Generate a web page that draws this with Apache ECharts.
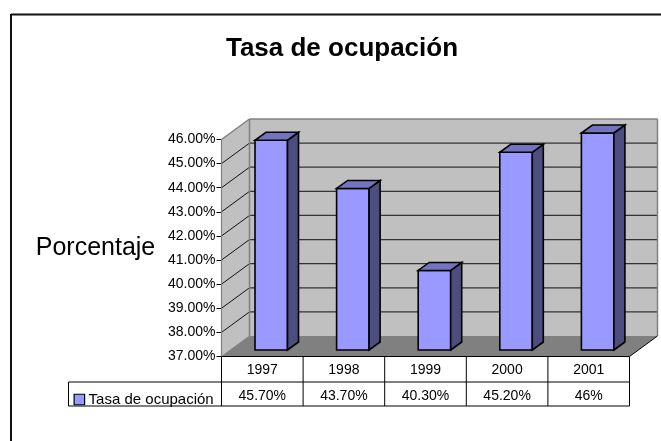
<!DOCTYPE html>
<html><head><meta charset="utf-8">
<style>html,body{margin:0;padding:0;background:#fff}#c{width:661px;height:441px}</style>
<script src="https://cdn.jsdelivr.net/npm/echarts@6/dist/echarts.min.js"></script>
</head><body><div id="c"></div>
<script>
const titleText = 'Tasa de ocupación';
const yAxisTitle = 'Porcentaje';
const seriesName = 'Tasa de ocupación';
const categories = ['1997','1998','1999','2000','2001'];
const values = [45.7,43.7,40.3,45.2,46];
const tableLabels = ['45.70%','43.70%','40.30%','45.20%','46%'];
const yMin = 37, yMax = 46;

const DX = 28, DY = -20.5;      // wall depth
const BAR_W = 32.5, BX = -7.3, BY = -6.5, BDX = 11, BDY = -8; // bar size & placement in depth
const FONT = '"Liberation Sans", Arial, sans-serif';
const ROW1 = 25.5, ROW2 = 49.5;

const chart = echarts.init(document.getElementById('c'), null, {renderer:'canvas'});

function poly(pts, fill, stroke, w){
  return {type:'polygon', shape:{points:pts}, style:{fill, stroke:stroke||null, lineWidth:w||0, lineJoin:'miter'}, silent:true};
}
function line(a,b,stroke,w){
  return {type:'line', shape:{x1:a[0],y1:a[1],x2:b[0],y2:b[1]}, style:{stroke, lineWidth:w}, silent:true};
}

function renderFrame(params, api){
  const x0 = api.coord([0,yMin])[0] - api.size([1,0])[0]/2;
  const x1 = x0 + api.size([1,0])[0]*categories.length;
  const yb = api.coord([0,yMin])[1], yt = api.coord([0,yMax])[1];
  const kids = [
    poly([[x0,yb],[x0+DX,yb+DY],[x0+DX,yt+DY],[x0,yt]], '#c0c0c0'),
    poly([[x0+DX,yb+DY],[x1+DX,yb+DY],[x1+DX,yt+DY],[x0+DX,yt+DY]], '#c0c0c0'),
    poly([[x0,yb],[x1,yb],[x1+DX,yb+DY],[x0+DX,yb+DY]], '#808080')
  ];
  for(let v=yMin+1;v<yMax;v++){
    const y = api.coord([0,v])[1];
    kids.push(line([x0,y],[x0+DX,y+DY],'#111',1));
    kids.push(line([x0+DX,y+DY],[x1+DX,y+DY],'#333',1.2));
  }
  kids.push(line([x0,yt],[x0+DX,yt+DY],'#808080',1.5));
  kids.push(line([x0+DX,yt+DY],[x1+DX,yt+DY],'#808080',1.5));
  kids.push(line([x1+DX,yt+DY],[x1+DX,yb+DY],'#808080',1.5));
  kids.push(line([x1+DX,yb+DY],[x1,yb],'#000',1));
  kids.push(line([x0,yb],[x0+DX,yb+DY],'#808080',1));
  kids.push(line([x0+DX,yb+DY],[x0+DX,yt+DY],'#808080',1.5));
  kids.push(line([x0,yb],[x0,yt],'#808080',1.2));
  return {type:'group', children:kids};
}

function renderBar(params, api){
  const i = api.value(0), v = api.value(1);
  const c = api.coord([i,yMin]), t = api.coord([i,v]);
  const l = c[0]+BX, r = l+BAR_W;
  const b = c[1]+BY, top = t[1]+BY;
  const s = '#000', w = 1.6;
  return {type:'group', children:[
    poly([[l,b],[r,b],[r,top],[l,top]], '#9999ff', s, w),
    poly([[r,b],[r+BDX,b+BDY],[r+BDX,top+BDY],[r,top]], '#4d4d80', s, w),
    poly([[l,top],[r,top],[r+BDX,top+BDY],[l+BDX,top+BDY]], '#7373bf', s, w)
  ]};
}

function renderTable(params, api){
  const band = api.size([1,0])[0];
  const x0 = api.coord([0,yMin])[0]-band/2, x1 = x0+band*categories.length;
  const yb = api.coord([0,yMin])[1];
  const lx = 68.5;
  const kids = [
    line([x0,yb],[x1,yb],'#000',1),
    line([x1,yb],[x1,yb+ROW2],'#000',1),
    line([lx,yb+ROW1],[x1,yb+ROW1],'#000',1),
    line([lx,yb+ROW2],[x1,yb+ROW2],'#000',1),
    line([lx,yb+ROW1],[lx,yb+ROW2],'#000',1)
  ];
  for(let i=0;i<categories.length;i++){
    kids.push(line([x0+band*i,yb],[x0+band*i,yb+ROW2],'#000',1));
  }
  return {type:'group', children:kids};
}

chart.setOption({
  animation:false,
  backgroundColor:'#fff',
  graphic:[
    {type:'line',shape:{x1:11,y1:14.5,x2:661,y2:14.5},style:{stroke:'#111',lineWidth:2},silent:true},
    {type:'line',shape:{x1:11,y1:14,x2:11,y2:441},style:{stroke:'#111',lineWidth:2},silent:true}
  ],
  title:{text:titleText,left:337,top:31,textAlign:'center',
    textStyle:{fontFamily:FONT,fontWeight:'bold',fontSize:26,color:'#000'}},
  legend:{show:true,left:68.5,top:387,icon:'rect',itemWidth:10.5,itemHeight:10.5,itemGap:0,
    data:[{name:seriesName,itemStyle:{color:'#9999ff',borderColor:'#000',borderWidth:1.2}}],
    textStyle:{fontFamily:FONT,fontSize:15,color:'#000',padding:[0,0,0,-1]}},
  grid:{left:221.5,top:139.5,width:408,height:217,containLabel:false},
  xAxis:[
    {type:'category',data:categories,position:'bottom',
     axisLine:{show:false},axisTick:{show:false},
     axisLabel:{fontFamily:FONT,fontSize:14,color:'#000',margin:7}},
    {type:'category',data:tableLabels,position:'bottom',offset:26,
     axisLine:{show:false},axisTick:{show:false},
     axisLabel:{fontFamily:FONT,fontSize:14,color:'#000',margin:7}}
  ],
  yAxis:{type:'value',min:yMin,max:yMax,interval:1,
    name:yAxisTitle,nameLocation:'middle',nameRotate:0,nameGap:126,
    nameTextStyle:{fontFamily:FONT,fontSize:25,color:'#000',align:'center',verticalAlign:'middle',padding:[0,0,1,0]},
    axisLine:{show:false},
    axisTick:{show:true,length:5,lineStyle:{color:'#000',width:1}},
    splitLine:{show:false},
    axisLabel:{fontFamily:FONT,fontSize:14,color:'#000',margin:6,formatter:v=>v.toFixed(2)+'%'}},
  series:[
    {type:'custom',name:'frame',clip:false,data:[[0,yMin]],renderItem:renderFrame,silent:true,z:1},
    {type:'custom',name:seriesName,clip:false,data:values.map((v,i)=>[i,v]),
      encode:{x:0,y:1},renderItem:renderBar,itemStyle:{color:'#9999ff'},z:2},
    {type:'custom',name:'table',clip:false,data:[[0,yMin]],renderItem:renderTable,silent:true,z:3}
  ]
});
</script></body></html>
